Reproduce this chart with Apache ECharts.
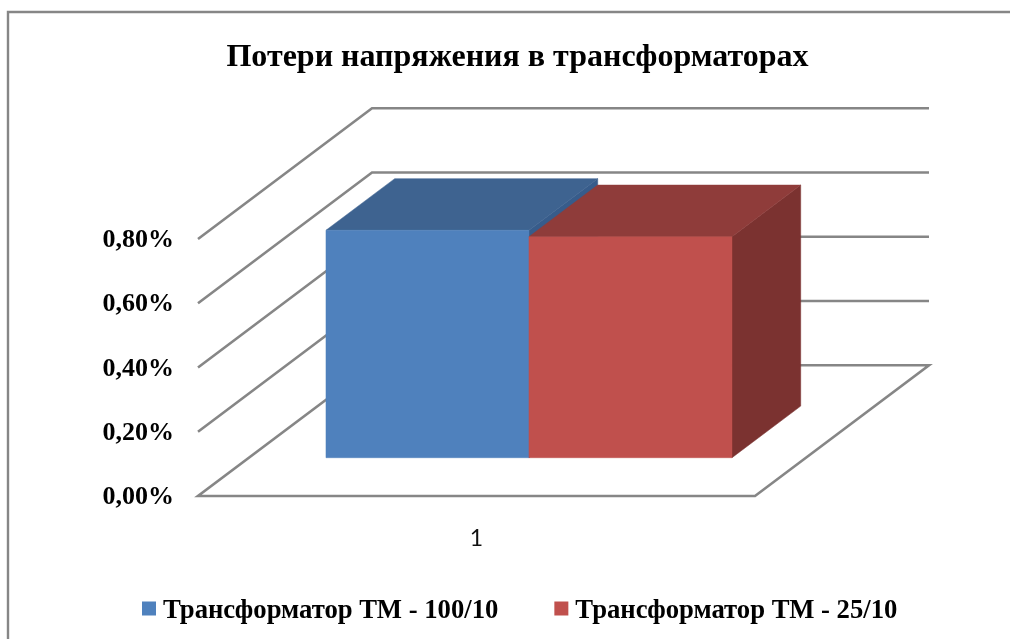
<!DOCTYPE html>
<html>
<head>
<meta charset="utf-8">
<style>html,body{margin:0;padding:0;background:#fff}#chart{width:1010px;height:639px}</style>
<script src="https://cdn.jsdelivr.net/npm/echarts@6/dist/echarts.min.js"></script>
</head>
<body>
<div id="chart"></div>
<script>
const categories = ['1'];
const seriesNames = ['Трансформатор ТМ - 100/10', 'Трансформатор ТМ - 25/10'];
const lossesSmall = [0.708];
const lossesLarge = [0.688];
const yTicks = [0, 0.2, 0.4, 0.6, 0.8];

// Oblique projection of the 3D box: full floor depth in pixels.
const DEPTH_X = 174, DEPTH_Y = -130.7;
// Bars occupy this slice of the floor depth.
const BAR_NEAR = 0.293, BAR_FAR = 0.688;
const BAR_WIDTH_SHARE = 203 / 557;
const BAR_NUDGE = 1.5;
const GRID_COLOR = '#868686';
const serif = '"Liberation Serif", "Times New Roman", serif';

const shift = (p, d) => [p[0] + DEPTH_X * d, p[1] + DEPTH_Y * d];

function renderWall(params, api) {
  const value = api.value(0);
  const band = api.size([1, 0])[0];
  const centre = api.coord([0, value]);
  const left = [centre[0] - band / 2, centre[1]];
  const right = [centre[0] + band / 2, centre[1]];
  const points = value === 0
    ? [shift(left, 1), left, right, shift(right, 1), shift(left, 1)]
    : [left, shift(left, 1), shift(right, 1)];
  return {
    type: 'polyline',
    shape: { points },
    style: { fill: null, stroke: GRID_COLOR, lineWidth: 2.6 }
  };
}

function polygon(points, fill) {
  return { type: 'polygon', shape: { points }, style: { fill, stroke: fill, lineWidth: 0.5 } };
}

function barRenderer(offset, colors) {
  return function (params, api) {
    const band = api.size([1, 0])[0];
    const w = band * BAR_WIDTH_SHARE;
    const top = api.coord([api.value(0), api.value(1)]);
    const base = api.coord([api.value(0), 0]);
    const depth = BAR_FAR - BAR_NEAR;
    const x0 = top[0] + offset * w + BAR_NUDGE;
    const tl = shift([x0, top[1]], BAR_NEAR);
    const tr = shift([x0 + w, top[1]], BAR_NEAR);
    const bl = shift([x0, base[1]], BAR_NEAR);
    const br = shift([x0 + w, base[1]], BAR_NEAR);
    return {
      type: 'group',
      children: [
        polygon([tr, shift(tr, depth), shift(br, depth), br], colors.side),
        polygon([tl, tr, shift(tr, depth), shift(tl, depth)], colors.top),
        polygon([tl, tr, br, bl], colors.front)
      ]
    };
  };
}

const BLUE = { front: '#4f81bd', top: '#3e6390', side: '#375c8b' };
const RED = { front: '#c0504d', top: '#8f3c3a', side: '#7b3230' };

const legendLabel = {
  fontFamily: serif, fontWeight: 'bold', fontSize: 26.7, color: '#000',
  padding: [6, 0, 0, 2]
};

const chart = echarts.init(document.getElementById('chart'), null, { renderer: 'canvas' });
chart.setOption({
  animation: false,
  backgroundColor: '#fff',
  title: {
    text: 'Потери напряжения в трансформаторах',
    left: 517.5, top: 42, textAlign: 'center', padding: 0,
    textStyle: { fontFamily: serif, fontWeight: 'bold', fontSize: 32, color: '#000' }
  },
  legend: {
    left: 142, top: 598, padding: 0,
    itemWidth: 14, itemHeight: 14, itemGap: 56,
    icon: 'rect',
    selectedMode: false,
    data: seriesNames.map(name => ({ name, itemStyle: { color: name === seriesNames[0] ? BLUE.front : RED.front } })),
    formatter: name => '{t|' + name + '}',
    textStyle: { fontFamily: serif, fontWeight: 'bold', fontSize: 26.7, color: '#000', rich: { t: legendLabel } }
  },
  grid: { left: 198, right: 255, top: 239, height: 257, containLabel: false },
  xAxis: {
    type: 'category',
    data: categories,
    axisLine: { show: false },
    axisTick: { show: false },
    axisLabel: { margin: 31, fontFamily: 'Lato, "Open Sans", sans-serif', fontSize: 23, color: '#111' }
  },
  yAxis: {
    type: 'value', min: 0, max: 0.8, interval: 0.2,
    axisLine: { show: false },
    axisTick: { show: false },
    splitLine: { show: false },
    axisLabel: {
      margin: 24,
      fontFamily: serif, fontWeight: 'bold', fontSize: 26, color: '#000',
      verticalAlign: 'top', lineHeight: 3,
      formatter: v => v.toFixed(2).replace('.', ',') + '%'
    }
  },
  // Chart frame: only its top and left edges fall inside the page.
  graphic: [{
    type: 'rect', silent: true, z: -1,
    shape: { x: 8, y: 12, width: 1100, height: 700 },
    style: { fill: '#fff', stroke: GRID_COLOR, lineWidth: 2.4 }
  }],
  series: [
    {
      type: 'custom', name: 'walls', coordinateSystem: 'cartesian2d', clip: false, z: 1,
      silent: true, renderItem: renderWall,
      encode: { y: 0 },
      data: yTicks.map(v => [v])
    },
    {
      type: 'custom', name: seriesNames[0], coordinateSystem: 'cartesian2d', clip: false, z: 2,
      renderItem: barRenderer(-1, BLUE),
      encode: { x: 0, y: 1 },
      data: categories.map((c, i) => [i, lossesSmall[i]])
    },
    {
      type: 'custom', name: seriesNames[1], coordinateSystem: 'cartesian2d', clip: false, z: 3,
      renderItem: barRenderer(0, RED),
      encode: { x: 0, y: 1 },
      data: categories.map((c, i) => [i, lossesLarge[i]])
    }
  ]
});
</script>
</body>
</html>
